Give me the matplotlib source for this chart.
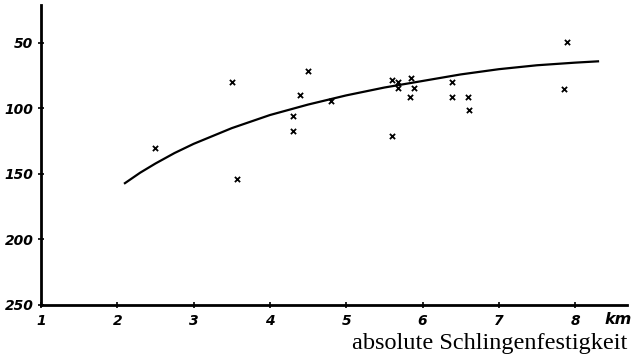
import matplotlib
matplotlib.use("Agg")
import matplotlib.pyplot as plt

# measured points (distance in km, absolute loop strength)
pts_km = [2.5, 3.5, 3.57, 4.5, 4.4, 4.3, 4.3, 4.8, 5.6, 5.6, 5.68, 5.68,
          5.85, 5.89, 5.84, 6.39, 6.39, 6.6, 6.61, 7.89, 7.85]
pts_val = [130, 80, 154, 71, 90, 106, 117, 94, 78, 121, 80, 84,
           77, 84, 91, 80, 91, 91, 101, 49, 85]

# fitted curve
curve_km = [2.1, 2.3, 2.5, 2.75, 3.0, 3.25, 3.5, 3.75, 4.0, 4.25, 4.5, 4.75,
            5.0, 5.25, 5.5, 5.75, 6.0, 6.25, 6.5, 6.75, 7.0, 7.25, 7.5,
            7.75, 8.0, 8.3]
curve_val = [157, 149, 142, 134, 127, 121, 115, 110, 105, 101, 97, 93.5,
             90, 87, 84, 81.5, 79, 76.5, 74, 72, 70, 68.5, 67,
             66, 65, 64]

x_ticks = [1, 2, 3, 4, 5, 6, 7, 8]
y_ticks = [50, 100, 150, 200, 250]

fig = plt.figure(figsize=(6.35, 3.64), dpi=100)
ax = fig.add_axes([41 / 635, 59 / 364, 586 / 635, 300 / 364])

ax.plot(curve_km, curve_val, color="black", lw=1.6)
ax.scatter(pts_km, pts_val, marker="x", s=14, color="black", linewidths=1.3, zorder=3)

ax.set_xlim(1, 8.68)
ax.set_ylim(250, 21)

for s in ("top", "right"):
    ax.spines[s].set_visible(False)
for s in ("left", "bottom"):
    ax.spines[s].set_linewidth(2)

ax.set_xticks(x_ticks)
ax.set_yticks(y_ticks)
ax.tick_params(axis="both", direction="inout", length=5, width=1.2,
               labelsize=10)
ax.tick_params(axis="x", pad=4)
ax.tick_params(axis="y", pad=3)
for lab in ax.get_xticklabels() + ax.get_yticklabels():
    lab.set_fontweight("bold")
    lab.set_fontstyle("italic")

ax.text(8.38, 255, "km", fontsize=11.5, fontweight="bold", fontstyle="italic",
        ha="left", va="top", clip_on=False)

fig.text(627 / 635, 21 / 364, "absolute Schlingenfestigkeit",
         fontsize=17.5, family="Liberation Serif", ha="right", va="center")

fig.savefig("out.png", dpi=100)
